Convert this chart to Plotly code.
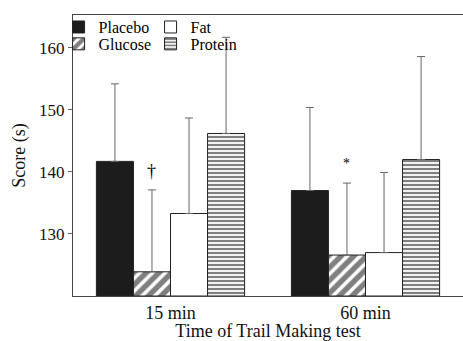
import plotly.graph_objects as go

categories = ["15 min", "60 min"]
series_names = ["Placebo", "Glucose", "Fat", "Protein"]
placebo = [141.7, 137.0]
glucose = [123.9, 126.6]
fat = [133.3, 127.0]
protein = [146.2, 142.0]
placebo_err = [12.5, 13.4]
glucose_err = [13.2, 11.6]
fat_err = [15.4, 12.9]
protein_err = [15.5, 16.6]
marks = ["†", "*"]
mark_y = [140.2, 141.3]

BASE = 120
FONT = "Liberation Serif"

styles = {
    "Placebo": dict(color="#1c1c1c", pattern=dict(shape="")),
    "Glucose": dict(color="white", pattern=dict(shape="/", fgcolor="#000", bgcolor="white", size=9, solidity=0.6)),
    "Fat": dict(color="white", pattern=dict(shape="")),
    "Protein": dict(color="white", pattern=dict(shape="-", fgcolor="#000", bgcolor="white", size=4, solidity=0.55)),
}
legend_of = {"Placebo": "legend", "Fat": "legend", "Glucose": "legend2", "Protein": "legend2"}

vals = {"Placebo": placebo, "Glucose": glucose, "Fat": fat, "Protein": protein}
errs = {"Placebo": placebo_err, "Glucose": glucose_err, "Fat": fat_err, "Protein": protein_err}

fig = go.Figure()
for name in series_names:
    st = styles[name]
    fig.add_trace(go.Bar(
        name=name,
        x=categories,
        y=[v - BASE for v in vals[name]],
        base=BASE,
        marker=dict(color=st["color"], pattern=st["pattern"], line=dict(color="#222", width=1)),
        error_y=dict(type="data", array=errs[name], arrayminus=[0, 0], symmetric=False,
                     color="#666", thickness=1, width=4),
        legend=legend_of[name],
        hoverinfo="skip",
    ))

# significance marks above the glucose bars
bar_w = (1 - 0.24) / 4
gl_off = -bar_w / 2
for i, (m, yv) in enumerate(zip(marks, mark_y)):
    fig.add_annotation(x=i + gl_off, y=yv, text=m, showarrow=False,
                       font=dict(family=FONT, size=18 if m == "†" else 14, color="#000"),
                       xref="x", yref="y", yanchor="middle")

leg_common = dict(orientation="h", x=-0.037, xanchor="left", yanchor="middle",
                  entrywidth=47, font=dict(size=16, family=FONT, color="#000"),
                  bgcolor="rgba(0,0,0,0)", itemclick=False, tracegroupgap=0)

fig.update_layout(
    width=463, height=341,
    margin=dict(l=73, r=0, t=15, b=45, autoexpand=False),
    paper_bgcolor="white", plot_bgcolor="white",
    barmode="group", bargap=0.24, bargroupgap=0,
    font=dict(family=FONT, color="#111"),
    legend=dict(y=0.957, **leg_common),
    legend2=dict(y=0.897, **leg_common),
    xaxis=dict(
        showline=True, linecolor="#444", linewidth=1, mirror=True,
        ticks="", tickfont=dict(size=18),
        title=dict(text="Time of Trail Making test", font=dict(size=18), standoff=2),
        showgrid=False, range=[-0.5, 1.5],
    ),
    yaxis=dict(
        range=[BASE, 165.3], tickvals=[130, 140, 150, 160],
        showline=True, linecolor="#444", linewidth=1,
        ticks="outside", ticklen=4, tickcolor="#666", tickfont=dict(size=17),
        title=dict(text="Score (s)", font=dict(size=18), standoff=8),
        showgrid=False, zeroline=False,
    ),
    showlegend=True,
)

fig.write_html("out.html", config={"displayModeBar": False},
               post_script="document.body.style.margin='0';")
